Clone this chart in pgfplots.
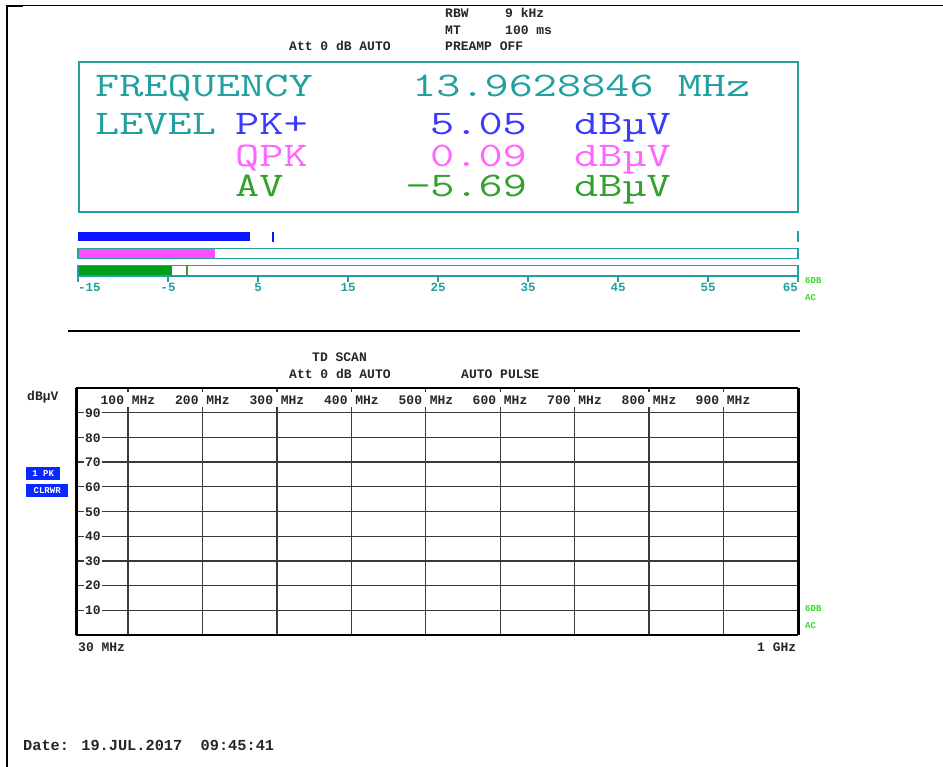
\documentclass[border=0pt]{standalone}
\usepackage{pgfplots}
\pgfplotsset{compat=1.18}
\usepackage{fontspec}
\setmainfont{Liberation Mono}
\setmonofont{Latin Modern Mono}[FakeStretch=1.36]
\definecolor{tealc}{HTML}{22A0A0}
\definecolor{pkblue}{HTML}{0A14FF}
\definecolor{pktext}{HTML}{3A3AFF}
\definecolor{qpkbar}{HTML}{FF4DFF}
\definecolor{qpktext}{HTML}{FF66FF}
\definecolor{avbar}{HTML}{00A01A}
\definecolor{avtext}{HTML}{33A030}
\definecolor{brightgreen}{HTML}{33DD22}
\definecolor{gridc}{HTML}{3A3A3A}
\definecolor{labblue}{HTML}{0A28FF}
\newcommand\fhd{\fontsize{13}{13}\selectfont\bfseries}
\newcommand\fbig{\ttfamily\fontsize{34.5}{35}\selectfont}
\newcommand\ftk{\fontsize{12.5}{13}\selectfont\bfseries}
\newcommand\fgr{\fontsize{9}{9}\selectfont\bfseries}
\begin{document}
\begin{tikzpicture}[x=1pt,y=-1pt]
\useasboundingbox (0,0) rectangle (943,767);
% page frame
\draw[line width=1pt] (7,6) -- (943,6);
\draw[line width=2.2pt] (7,767) -- (7,6) -- (23,6);
% header
\begin{scope}[every node/.style={anchor=base west, inner sep=0, font=\fhd, text=black!85}]
\node at (445,18) {RBW};
\node at (505,18) {9 kHz};
\node at (445,35) {MT};
\node at (505,35) {100 ms};
\node at (289,51) {Att 0 dB AUTO};
\node at (445,51) {PREAMP OFF};
\end{scope}
% display box
\draw[tealc, line width=1.5pt] (79,62) rectangle (798,212);
\begin{scope}[every node/.style={anchor=base west, inner sep=0, font=\fbig, text depth=0pt}]
\node[text=tealc] at (95,97) {FREQUENCY};
\node[text=tealc] at (412,97) {13.9628846 MHz};
\node[text=tealc] at (95,135) {LEVEL};
\node[text=pktext] at (235,135) {PK+};
\node[text=pktext] at (430,135) {5.05};
\node[text=pktext] at (574,135) {dBµV};
\node[text=qpktext] at (235,167) {QPK};
\node[text=qpktext] at (430,167) {0.09};
\node[text=qpktext] at (574,167) {dBµV};
\node[text=avtext] at (235,197) {AV};
\node[text=avtext] at (406,197) {−5.69};
\node[text=avtext] at (574,197) {dBµV};
\end{scope}
% bar graph
\begin{axis}[at={(78pt,-276pt)}, anchor=south west, scale only axis,
  width=720pt, height=48pt, xmin=-15, xmax=65, ymin=-276, ymax=-228,
  axis x line*=bottom, axis y line=none, clip=false,
  xtick={-15,-5,5,15,25,35,45,55,65},
  xticklabels={\rlap{-15},-5,5,15,25,35,45,55,\llap{65}},
  xtick align=outside, major tick length=6pt,
  every tick/.style={tealc, line width=1.5pt},
  x axis line style={tealc, line width=1.8pt},
  xticklabel style={font=\ftk, text=tealc, inner sep=0, anchor=north, yshift=-1pt}]
\addplot[fill=pkblue, draw=none] coordinates {(-15,-241.5) (4.1,-241.5) (4.1,-232) (-15,-232)} --cycle;
\addplot[pkblue, line width=2pt] coordinates {(6.7,-232) (6.7,-242)};
\addplot[tealc, line width=1.5pt] coordinates {(65,-231) (65,-242)};
\addplot[fill=qpkbar, draw=none] coordinates {(-15,-258) (0.2,-258) (0.2,-249) (-15,-249)} --cycle;
\addplot[draw=tealc, line width=1.6pt] coordinates {(-15,-248.5) (65,-248.5) (65,-258.5) (-15,-258.5)} --cycle;
\addplot[fill=avbar, draw=none] coordinates {(-15,-275) (-4.6,-275) (-4.6,-266) (-15,-266)} --cycle;
\addplot[draw=tealc, line width=1.6pt] coordinates {(-15,-265.5) (65,-265.5) (65,-276) (-15,-276)} --cycle;
\addplot[avtext, line width=1.5pt] coordinates {(-2.9,-266) (-2.9,-275.5)};
\end{axis}
\begin{scope}[every node/.style={anchor=base west, inner sep=0, font=\fgr, text=brightgreen}]
\node at (805,284) {6DB};
\node at (805,301) {AC};
\node at (805,611) {6DB};
\node at (805,628) {AC};
\end{scope}
% separator
\draw[black, line width=1.5pt] (68,331) -- (800,331);
% lower header
\begin{scope}[every node/.style={anchor=base west, inner sep=0, font=\fhd, text=black!85}]
\node at (312,362) {TD SCAN};
\node at (289,379) {Att 0 dB AUTO};
\node at (461,379) {AUTO PULSE};
\node at (27,400) {dBµV};
\node at (78,651) {30 MHz};
\node at (757,651) {1 GHz};
\end{scope}
% scan graph
\begin{axis}[at={(76pt,-635pt)}, anchor=south west, scale only axis,
  width=722pt, height=247pt, xmin=30, xmax=1000, ymin=0, ymax=100,
  xtick={100,200,...,900}, ytick={10,20,...,90},
  xticklabels={}, yticklabels={}, major tick length=0pt,
  grid=major, major grid style={line width=1.3pt, gridc},
  separate axis lines, axis on top,
  x axis line style={line width=2pt, black},
  y axis line style={line width=3pt, black}]
\end{axis}
\begin{scope}[every node/.style={fill=white, inner xsep=1.5pt, inner ysep=0pt, minimum height=15pt, font=\fhd, text=black!85}]
\node at (128,400) {100 MHz};
\node at (202.5,400) {200 MHz};
\node at (277,400) {300 MHz};
\node at (351.5,400) {400 MHz};
\node at (426,400) {500 MHz};
\node at (500,400) {600 MHz};
\node at (574.5,400) {700 MHz};
\node at (649,400) {800 MHz};
\node at (723,400) {900 MHz};
\end{scope}
\begin{scope}[every node/.style={fill=white, inner xsep=1.5pt, inner ysep=1pt, font=\fhd, text=black!85}]
\node at (93,413) {90};
\node at (93,438) {80};
\node at (93,462) {70};
\node at (93,487) {60};
\node at (93,512) {50};
\node at (93,536) {40};
\node at (93,561) {30};
\node at (93,585) {20};
\node at (93,610) {10};
\end{scope}
\node[fill=labblue, text=white, font=\fgr, inner sep=0, minimum width=34pt, minimum height=13pt, anchor=north west] at (26,467) {1 PK};
\node[fill=labblue, text=white, font=\fgr, inner sep=0, minimum width=42pt, minimum height=13pt, anchor=north west] at (26,484) {CLRWR};
\node[anchor=base west, inner sep=0, font=\fontsize{15.3}{16}\selectfont\bfseries, text=black!85] at (23,750) {Date: 19.JUL.2017\ \ 09:45:41};
\end{tikzpicture}
\end{document}
